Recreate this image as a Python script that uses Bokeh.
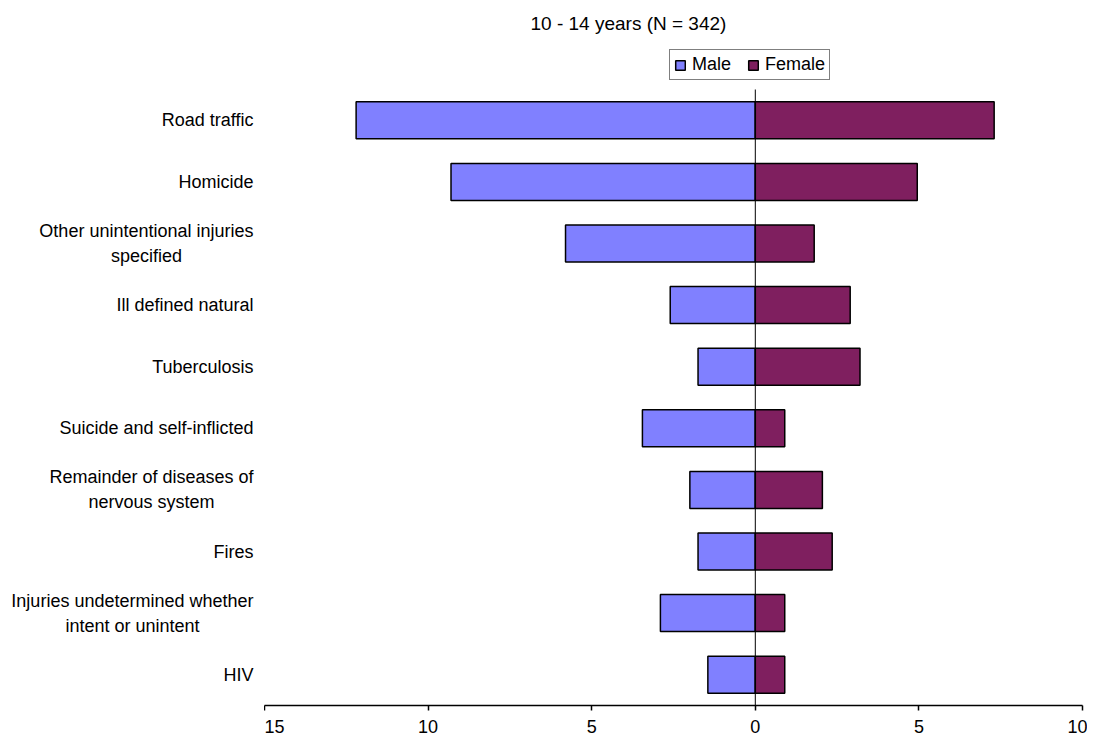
from bokeh.plotting import figure
from bokeh.layouts import row
from bokeh.models import (Range1d, FixedTicker, Legend, LegendItem, ColumnDataSource)
from bokeh.core.properties import value
from bokeh.embed import file_html
from bokeh.resources import INLINE

# ---- data ----
categories = [
    "Road traffic",
    "Homicide",
    "Other unintentional injuries\nspecified",
    "Ill defined natural",
    "Tuberculosis",
    "Suicide and self-inflicted",
    "Remainder of diseases of\nnervous system",
    "Fires",
    "Injuries undetermined whether\nintent or unintent",
    "HIV",
]
male = [12.2, 9.3, 5.8, 2.6, 1.75, 3.45, 2.0, 1.75, 2.9, 1.45]
female = [7.3, 4.95, 1.8, 2.9, 3.2, 0.9, 2.05, 2.35, 0.9, 0.9]
x_ticks = [-15, -10, -5, 0, 5, 10]
x_tick_labels = ["15", "10", "5", "0", "5", "10"]
title_text = "10 - 14 years (N = 342)"

MALE_COLOR = "#8080FF"
FEMALE_COLOR = "#7F1F5F"
FONT = "Liberation Sans"

LABEL_W = 264
FRAME_W = 818
UNIT = 61.6          # px per category band
HEAD = 49            # px of frame above the first band (room for the legend)
N = len(categories)
FRAME_H = int(round(UNIT * N + HEAD))
TOP = 40
BOTTOM = 35

pos = list(range(N))
src = ColumnDataSource(dict(
    pos=pos,
    male_left=[-m for m in male],
    zero=[0] * N,
    female_right=female,
))

# y grows downwards: first category at the top
y_range = Range1d(start=N - 0.5, end=-0.5 - HEAD / UNIT)

# ---- main chart ----
p = figure(
    frame_width=FRAME_W, frame_height=FRAME_H,
    y_range=y_range, x_range=Range1d(-15, 10),
    output_backend="svg", toolbar_location=None,
    min_border_left=0, min_border_right=5,
    min_border_top=TOP, min_border_bottom=BOTTOM,
    title=title_text,
)

r_m = p.hbar(y="pos", left="male_left", right="zero", height=0.6, source=src,
             fill_color=MALE_COLOR, line_color="black", line_width=1.5)
r_f = p.hbar(y="pos", left="zero", right="female_right", height=0.6, source=src,
             fill_color=FEMALE_COLOR, line_color="black", line_width=1.5)

# zero line across the category bands
p.segment(x0=[0], y0=[-0.5], x1=[0], y1=[N - 0.5], line_color="black", line_width=1)

p.title.text_font = FONT
p.title.text_font_size = "19px"
p.title.text_font_style = "normal"
p.title.text_color = "black"
p.title.align = "left"
p.title.offset = 266
p.title.standoff = 13

p.xaxis.ticker = FixedTicker(ticks=x_ticks)
p.xaxis.major_label_overrides = {t: l for t, l in zip(x_ticks, x_tick_labels)}
p.xaxis.axis_line_color = "black"
p.xaxis.axis_line_width = 1.5
p.xaxis.major_tick_line_color = "black"
p.xaxis.major_tick_line_width = 1.5
p.xaxis.major_tick_in = 0
p.xaxis.major_tick_out = 5
p.xaxis.minor_tick_line_color = None
p.xaxis.major_label_text_font = FONT
p.xaxis.major_label_text_font_size = "18px"
p.xaxis.major_label_text_color = "black"
p.xaxis.major_label_text_line_height = 1.0
p.xaxis.major_label_standoff = 9

p.yaxis.visible = False
p.xgrid.grid_line_color = None
p.ygrid.grid_line_color = None
p.outline_line_color = None
p.background_fill_color = "white"
p.border_fill_color = "white"

legend = Legend(
    items=[LegendItem(label="Male", renderers=[r_m]),
           LegendItem(label="Female", renderers=[r_f])],
    orientation="horizontal",
    location=(405, 625),
    glyph_width=12, glyph_height=12,
    label_standoff=6, spacing=16, padding=4, margin=0,
    label_text_font=FONT, label_text_font_size="18px",
    label_text_color="black",
    border_line_color="black", border_line_width=1,
    label_height=18,
)
p.add_layout(legend)

# ---- category labels (left) ----
lab = figure(
    frame_width=LABEL_W, frame_height=FRAME_H,
    y_range=y_range, x_range=Range1d(0, LABEL_W),
    output_backend="svg", toolbar_location=None,
    x_axis_location=None, y_axis_location=None,
    min_border_left=0, min_border_right=0,
    min_border_top=TOP, min_border_bottom=BOTTOM,
)
lab.text(x=LABEL_W - 11, y=pos, text=categories,
         text_align="center", anchor="center_right", text_baseline="middle",
         text_font=value(FONT), text_font_size="18px", text_color="black",
         text_line_height=1.25)
lab.xgrid.grid_line_color = None
lab.ygrid.grid_line_color = None
lab.outline_line_color = None
lab.border_fill_color = "white"

layout = row(lab, p, spacing=0)
open("out.html", "w").write(file_html(layout, INLINE))
